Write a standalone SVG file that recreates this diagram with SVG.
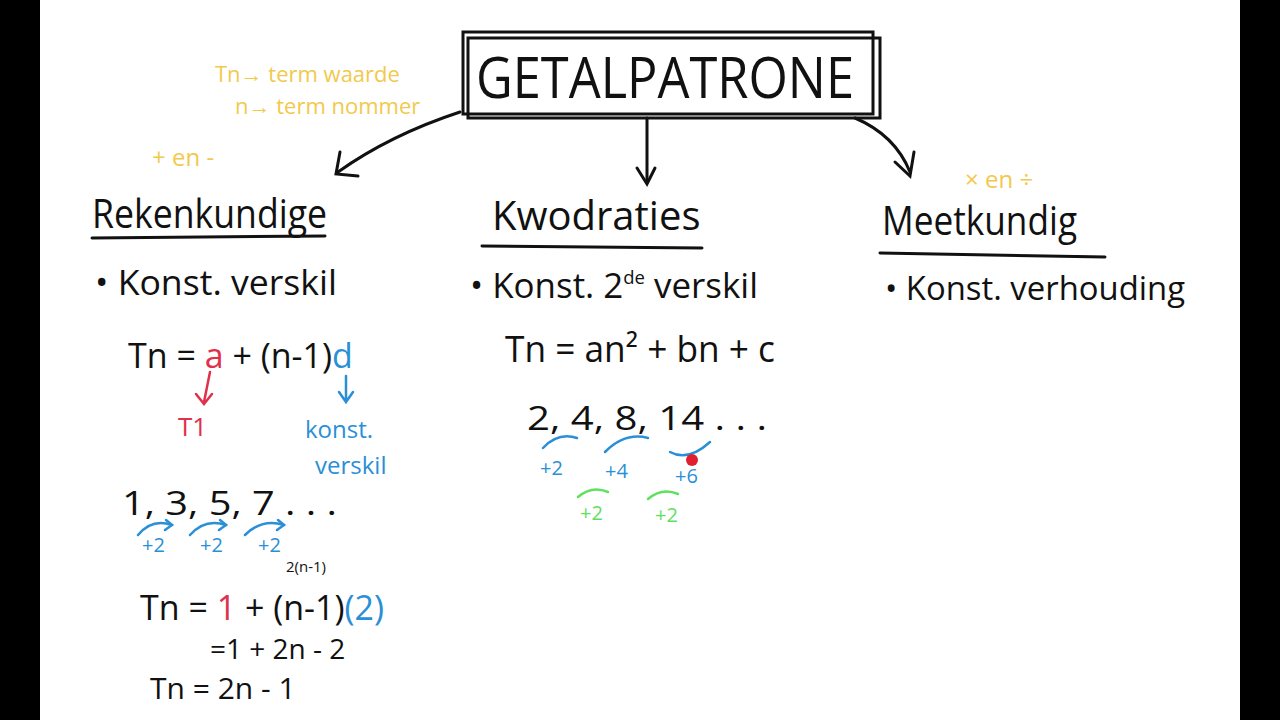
<svg xmlns="http://www.w3.org/2000/svg" width="1280" height="720" viewBox="0 0 1280 720">
<defs>
<style>
text{font-family:"Open Sans",sans-serif}
.h{fill:#111}
.y{fill:#f2c94c}
.r{fill:#e0304a}
.b{fill:#2a8fd6}
.g{fill:#5fe05f}
.ln{stroke:#111;stroke-width:3;fill:none;stroke-linecap:round}
.bl{stroke:#2a8fd6;stroke-width:2.5;fill:none;stroke-linecap:round}
.gl{stroke:#5fe05f;stroke-width:2.5;fill:none;stroke-linecap:round}
.rl{stroke:#e0304a;stroke-width:2.5;fill:none;stroke-linecap:round}
</style>
</defs>
<rect width="1280" height="720" fill="#fff"/>
<rect width="40" height="720" fill="#000"/>
<rect x="1240" width="40" height="720" fill="#000"/>
<g id="title">
<rect x="463" y="32" width="410" height="82" class="ln"/>
<rect x="468" y="38" width="412" height="80" class="ln" stroke-width="2"/>
<text x="476" y="98" class="h" font-size="56" textLength="378" lengthAdjust="spacingAndGlyphs">GETALPATRONE</text>
</g>
<g id="notes">
<text x="215" y="82" class="y" font-size="22">Tn→ term waarde</text>
<text x="235" y="114" class="y" font-size="22">n→ term nommer</text>
<text x="152" y="166" class="y" font-size="24">+ en -</text>
<text x="965" y="188" class="y" font-size="24">× en ÷</text>
</g>
<g id="connectors">
<path d="M460 112 Q390 135 338 172" class="ln"/><path d="M340 152 L336 174 L358 176" class="ln"/>
<path d="M647 118 L647 182" class="ln"/><path d="M637 168 L647 184 L655 168" class="ln"/>
<path d="M855 118 Q895 135 910 172" class="ln"/><path d="M895 162 L910 176 L914 152" class="ln"/>
</g>
<g id="rekenkundig">
<text x="92" y="228" class="h" font-size="40" textLength="235" lengthAdjust="spacingAndGlyphs">Rekenkundige</text>
<path d="M92 238 L325 236" class="ln"/>
<text x="95" y="295" class="h" font-size="34" textLength="242" lengthAdjust="spacingAndGlyphs">• Konst. verskil</text>
<text x="128" y="368" class="h" font-size="34">Tn = <tspan class="r">a</tspan> + (n-1)<tspan class="b">d</tspan></text>
<path d="M210 372 L204 402 M196 394 L204 404 L212 394" class="rl"/>
<text x="178" y="436" class="r" font-size="26">T1</text>
<path d="M346 376 L346 400 M339 392 L346 402 L353 392" class="bl"/>
<text x="305" y="438" class="b" font-size="24">konst.</text>
<text x="315" y="474" class="b" font-size="24">verskil</text>
<text x="122" y="515" class="h" font-size="32" textLength="215" lengthAdjust="spacingAndGlyphs">1, 3, 5, 7 . . .</text>
<path d="M138 535 Q152 518 172 525 M190 535 Q205 518 226 525 M245 535 Q262 518 284 525" class="bl"/>
<path d="M166 520 L172 525 L165 530 M220 520 L226 525 L219 530 M278 520 L284 525 L277 530" class="bl"/>
<text x="142" y="552" class="b" font-size="20">+2</text><text x="200" y="552" class="b" font-size="20">+2</text><text x="258" y="552" class="b" font-size="20">+2</text>
<text x="286" y="572" class="h" font-size="15">2(n-1)</text>
<text x="140" y="620" class="h" font-size="34">Tn = <tspan class="r">1</tspan> + (n-1)<tspan class="b">(2)</tspan></text>
<text x="210" y="659" class="h" font-size="28">=1 + 2n - 2</text>
<text x="150" y="699" class="h" font-size="30">Tn = 2n - 1</text>
</g>
<g id="kwadraties">
<text x="492" y="230" class="h" font-size="40">Kwodraties</text>
<path d="M482 246 L702 248" class="ln"/>
<text x="470" y="298" class="h" font-size="34" textLength="288" lengthAdjust="spacingAndGlyphs">• Konst. 2<tspan font-size="18" dy="-14">de</tspan><tspan dy="14"> verskil</tspan></text>
<text x="505" y="362" class="h" font-size="36" textLength="270" lengthAdjust="spacingAndGlyphs">Tn = an² + bn + c</text>
<text x="527" y="430" class="h" font-size="32" textLength="240" lengthAdjust="spacingAndGlyphs">2, 4, 8, 14 . . .</text>
<path d="M543 448 Q558 432 577 438 M605 452 Q625 432 648 438 M670 452 Q688 462 710 442" class="bl"/>
<text x="540" y="475" class="b" font-size="20">+2</text><text x="605" y="478" class="b" font-size="20">+4</text><text x="675" y="483" class="b" font-size="20">+6</text>
<circle cx="692" cy="460" r="6" fill="#e02030"/>
<path d="M578 497 Q592 485 608 492 M648 499 Q662 487 678 494" class="gl"/>
<text x="580" y="520" class="g" font-size="20">+2</text><text x="655" y="522" class="g" font-size="20">+2</text>
</g>
<g id="meetkundig">
<text x="882" y="235" class="h" font-size="40" textLength="195" lengthAdjust="spacingAndGlyphs">Meetkundig</text>
<path d="M880 253 L1105 257" class="ln"/>
<text x="885" y="300" class="h" font-size="32" textLength="300" lengthAdjust="spacingAndGlyphs">• Konst. verhouding</text>
</g>
</svg>
